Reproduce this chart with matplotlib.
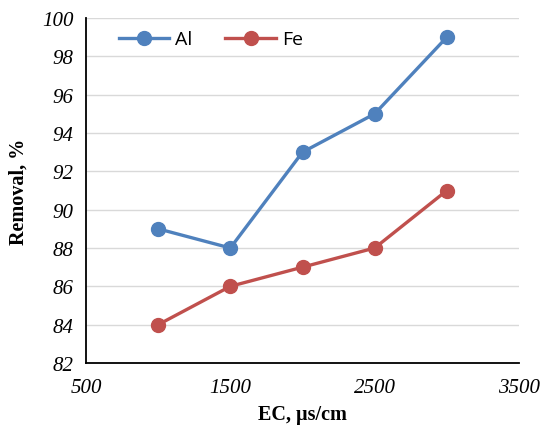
import matplotlib
matplotlib.use("Agg")
import matplotlib.pyplot as plt

ec = [1000, 1500, 2000, 2500, 3000]
al = [89, 88, 93, 95, 99]
fe = [84, 86, 87, 88, 91]
xticks = [500, 1500, 2500, 3500]
yticks = [82, 84, 86, 88, 90, 92, 94, 96, 98, 100]

fig = plt.figure(figsize=(5.42, 4.31), dpi=100)
ax = fig.add_axes([86/542, 1-364/431, (519-86)/542, (364-19)/431])

ax.plot(ec, al, color="#4F81BD", lw=2.4, marker="o", ms=10, label="Al", zorder=3)
ax.plot(ec, fe, color="#C0504D", lw=2.4, marker="o", ms=10, label="Fe", zorder=3)

ax.set_xlim(500, 3500)
ax.set_ylim(82, 100)
ax.set_xticks(xticks)
ax.set_yticks(yticks)
ax.grid(axis="y", color="#D9D9D9", lw=1)
ax.set_axisbelow(True)
for s in ["top", "right"]:
    ax.spines[s].set_visible(False)
for s in ["left", "bottom"]:
    ax.spines[s].set_color("black")
    ax.spines[s].set_linewidth(1.3)
ax.tick_params(axis="y", length=0, pad=9)
ax.tick_params(axis="x", length=0, pad=11)
for lab in ax.get_xticklabels() + ax.get_yticklabels():
    lab.set_fontfamily("Liberation Serif")
    lab.set_fontstyle("italic")
    lab.set_fontsize(15)

ax.set_xlabel("EC, µs/cm", family="Liberation Serif", weight="bold", fontsize=14.5, labelpad=5)
ax.set_ylabel("Removal, %", family="Liberation Serif", weight="bold", fontsize=14.5, labelpad=10)

leg = ax.legend(loc="upper left", bbox_to_anchor=(0.035, 1.015), ncol=2, frameon=False,
                prop={"family": "Open Sans", "size": 14}, handlelength=2.6, columnspacing=1.7,
                handletextpad=0.3)

fig.savefig("out.png", dpi=100)
